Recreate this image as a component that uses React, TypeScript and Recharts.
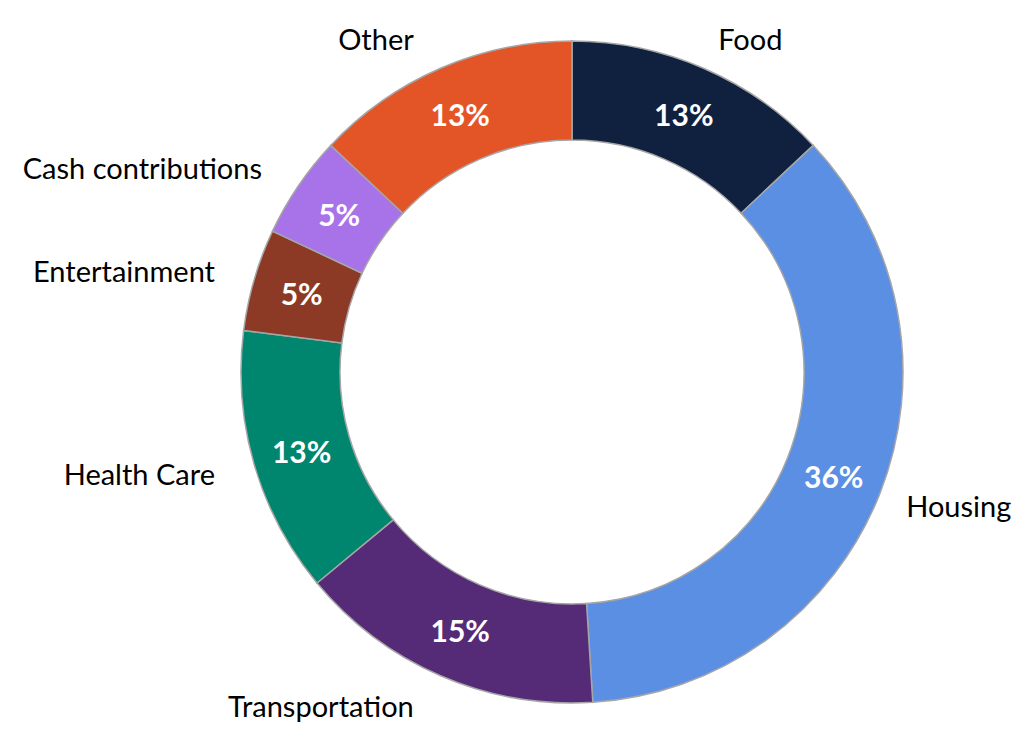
import React from 'react';
import { PieChart, Pie, Cell } from 'recharts';

const categories = ['Food', 'Housing', 'Transportation', 'Health Care', 'Entertainment', 'Cash contributions', 'Other'];
const shares = [13, 36, 15, 13, 5, 5, 13];
const colors = ['#10213F', '#5B8FE3', '#552A76', '#00856E', '#8C3A25', '#A872E8', '#E35527'];

const data = categories.map((name, i) => ({ name, value: shares[i] }));

const RAD = Math.PI / 180;

function renderLabel(props: any) {
  const { cx, cy, midAngle, innerRadius, outerRadius, name, value } = props;
  const cos = Math.cos(-midAngle * RAD);
  const sin = Math.sin(-midAngle * RAD);
  const rIn = (innerRadius + outerRadius) / 2;
  const rOut = outerRadius + 22;
  const anchor = cos > 0.3 ? 'start' : cos < -0.3 ? 'end' : 'middle';
  const gap = anchor === 'end' ? -18 : anchor === 'start' ? 6 : 0;
  const ox = cx + rOut * cos + gap;
  const oy = cy + rOut * sin + sin * 10;
  return (
    <g>
      <text
        x={cx + rIn * cos}
        y={cy + rIn * sin}
        textAnchor="middle"
        dominantBaseline="central"
        fill="#FFFFFF"
        fontSize={30}
        fontWeight={700}
      >
        {value}%
      </text>
      <text
        x={ox}
        y={oy}
        textAnchor={anchor}
        dominantBaseline="central"
        fill="#000000"
        fontSize={29}
      >
        {name}
      </text>
    </g>
  );
}

export default function App() {
  return (
    <div style={{ position: 'absolute', left: 0, top: 0, width: 1030, height: 730, background: '#fff', fontFamily: 'Lato, sans-serif' }}>
      <PieChart width={1030} height={730} margin={{ top: 0, right: 0, bottom: 0, left: 0 }}>
        <Pie
          data={data}
          dataKey="value"
          nameKey="name"
          cx={572}
          cy={372}
          innerRadius={232}
          outerRadius={331}
          startAngle={90}
          endAngle={-270}
          stroke="#A6A6A6"
          strokeWidth={1.5}
          label={renderLabel}
          labelLine={false}
          isAnimationActive={false}
        >
          {data.map((d, i) => (
            <Cell key={d.name} fill={colors[i]} />
          ))}
        </Pie>
      </PieChart>
    </div>
  );
}
